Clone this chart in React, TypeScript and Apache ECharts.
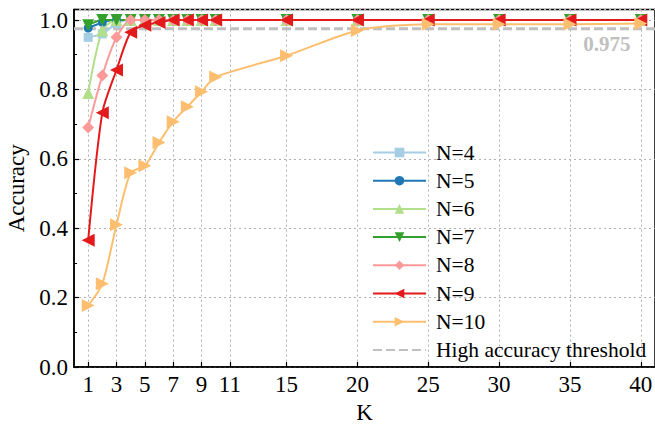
import React, { useEffect, useRef } from "react";
import * as echarts from "echarts";

const K = [1, 2, 3, 4, 5, 6, 7, 8, 9, 10, 15, 20, 25, 30, 35, 40];
const xTickValues = [1, 3, 5, 7, 9, 11, 15, 20, 25, 30, 35, 40];

const n4 = [0.95, 0.96, 0.99, 1, 1, 1, 1, 1, 1, 1, 1, 1, 1, 1, 1, 1];
const n5 = [0.977, 0.993, 1, 1, 1, 1, 1, 1, 1, 1, 1, 1, 1, 1, 1, 1];
const n6 = [0.79, 0.97, 1, 1, 1, 1, 1, 1, 1, 1, 1, 1, 1, 1, 1, 1];
const n7 = [0.985, 1, 1, 1, 1, 1, 1, 1, 1, 1, 1, 1, 1, 1, 1, 1];
const n8 = [0.69, 0.84, 0.95, 1, 1, 1, 1, 1, 1, 1, 1, 1, 1, 1, 1, 1];
const n9 = [0.365, 0.733, 0.856, 0.965, 0.985, 0.993, 1, 1, 1, 1, 1, 1, 1, 1, 1, 1];
const n10 = [0.177, 0.24, 0.41, 0.56, 0.58, 0.647, 0.707, 0.75, 0.793, 0.836, 0.897, 0.97, 0.988, 0.988, 0.988, 0.99];

const threshold = 0.975;

const seriesDefs = [
  { name: "N=4", data: n4, color: "#a6cee3", symbol: "rect", rotate: 0, size: 9 },
  { name: "N=5", data: n5, color: "#1f78b4", symbol: "circle", rotate: 0, size: 9 },
  { name: "N=6", data: n6, color: "#b2df8a", symbol: "triangle", rotate: 0, size: 12 },
  { name: "N=7", data: n7, color: "#33a02c", symbol: "triangle", rotate: 180, size: 12 },
  { name: "N=8", data: n8, color: "#fb9a99", symbol: "diamond", rotate: 0, size: 12 },
  { name: "N=9", data: n9, color: "#e31a1c", symbol: "triangle", rotate: 90, size: 13 },
  { name: "N=10", data: n10, color: "#fdbf6f", symbol: "triangle", rotate: -90, size: 13 },
];

const FONT = "Liberation Serif";

export default function App() {
  const ref = useRef<HTMLDivElement>(null);
  useEffect(() => {
    if (!ref.current) return;
    const chart = echarts.init(ref.current, undefined, { renderer: "svg" });
    const lineSeries = seriesDefs.map((s) => ({
      name: s.name,
      type: "line",
      data: K.map((k, i) => [k, s.data[i]]),
      smooth: 0.25,
      symbol: s.symbol,
      symbolRotate: s.rotate,
      symbolSize: s.size,
      showSymbol: true,
      lineStyle: { color: s.color, width: 2 },
      itemStyle: { color: s.color },
      z: 3,
    }));
    const option: any = {
      animation: false,
      textStyle: { fontFamily: FONT },
      grid: {
        left: 74,
        right: 0,
        top: 9.6,
        bottom: 59,
        show: true,
        borderColor: "#000",
        borderWidth: 1.5,
        containLabel: false,
        outerBoundsMode: "none",
      },
      legend: {
        orient: "vertical",
        left: 372,
        top: 141.5,
        padding: 0,
        itemWidth: 53,
        itemHeight: 12,
        itemGap: 6.2,
        textStyle: { fontFamily: FONT, fontSize: 21.5, color: "#000", lineHeight: 22, padding: [0, 0, 0, 5] },
        data: [
          ...seriesDefs.map((s) => s.name),
          { name: "High accuracy threshold", itemStyle: { opacity: 0 } },
        ],
      },
      xAxis: {
        type: "value",
        min: 0,
        max: 41,
        name: "K",
        nameLocation: "middle",
        nameGap: 32,
        nameTextStyle: { fontFamily: FONT, fontSize: 23, color: "#000" },
        axisLine: { show: true, lineStyle: { color: "#000", width: 1.5 } },
        axisTick: { show: true, inside: true, length: 5, customValues: xTickValues, lineStyle: { color: "#000", width: 1.2 } },
        axisLabel: { customValues: xTickValues, fontFamily: FONT, fontSize: 23, color: "#000", margin: 6 },
        splitLine: { show: true, lineStyle: { color: "#b0b0b0", type: [2, 3], width: 1 } },
      },
      yAxis: {
        type: "value",
        min: 0,
        max: 1.03,
        interval: 0.2,
        name: "Accuracy",
        nameLocation: "middle",
        nameGap: 39,
        nameRotate: 90,
        nameTextStyle: { fontFamily: FONT, fontSize: 23, color: "#000" },
        axisLine: { show: true, lineStyle: { color: "#000", width: 1.5 } },
        axisTick: { show: true, inside: true, length: 5, lineStyle: { color: "#000", width: 1.2 } },
        minorTick: { show: true, splitNumber: 2, length: 3, lineStyle: { color: "#000", width: 1 } },
        axisLabel: {
          fontFamily: FONT,
          fontSize: 23,
          color: "#000",
          margin: 6,
          formatter: (v: number) => (v > 1.001 ? "" : v.toFixed(1)),
          showMaxLabel: false,
        },
        splitLine: { show: true, lineStyle: { color: "#b0b0b0", type: [2, 3], width: 1 } },
      },
      series: [
        {
          name: "High accuracy threshold",
          type: "line",
          data: [
            [0, threshold],
            [41, threshold],
          ],
          symbol: "none",
          lineStyle: { color: "#c0c0c0", width: 3, type: [9, 4] },
          itemStyle: { color: "#c0c0c0" },
          z: 2,
          markPoint: {
            symbol: "circle",
            symbolSize: 0,
            data: [{ coord: [37.6, threshold] }],
            label: {
              show: true,
              formatter: String(threshold),
              position: "bottom",
              distance: 5,
              fontFamily: FONT,
              fontSize: 21,
              fontWeight: "bold",
              color: "#c0c0c0",
            },
          },
        },
        ...lineSeries,
      ],
    };
    chart.setOption(option);
    return () => chart.dispose();
  }, []);
  return (
    <div
      ref={ref}
      style={{ position: "fixed", left: 0, top: 0, width: 655, height: 426, background: "#fff" }}
    />
  );
}
